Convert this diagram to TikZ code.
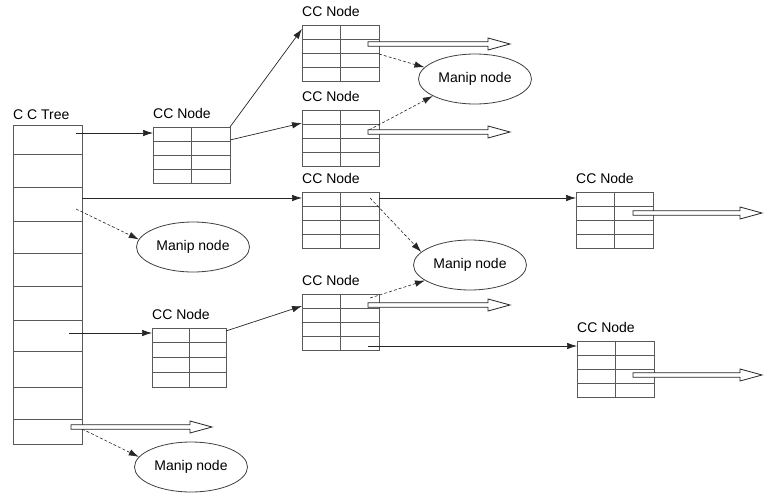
\documentclass[tikz,border=0pt]{standalone}
\usepackage{fontspec}
\setmainfont{Liberation Sans}
\usetikzlibrary{arrows.meta,calc,shapes.geometric}

\newcommand{\hollowarr}[2]{%
  \draw[hollowline] #1 ++(0,-2.2) -- ++({#2-22},0) -- ++(0,-3.8) -- ++(22,6) -- ++(-22,6) -- ++(0,-3.8) -- ++({-(#2)+22},0) -- cycle;}

\tikzset{
  lbl/.style={font=\fontsize{14}{16}\selectfont},
  boxline/.style={draw=black!65, line width=0.9pt},
  ccnode/.style={draw=black!65, line width=0.9pt, minimum width=77pt, minimum height=56pt,
    inner sep=0pt, outer sep=0pt, anchor=north west,
    path picture={
      \draw[boxline] (path picture bounding box.north) -- (path picture bounding box.south);
      \foreach \f in {0.25,0.5,0.75}
        \draw[boxline] ($(path picture bounding box.north west)!\f!(path picture bounding box.south west)$)
          -- ($(path picture bounding box.north east)!\f!(path picture bounding box.south east)$);
    },
    label={[anchor=base west, inner sep=0pt, yshift=9pt, lbl]north west:CC Node}},
  treebox/.style={draw=black!65, line width=0.9pt, minimum width=69pt, minimum height=319pt,
    inner sep=0pt, outer sep=0pt, anchor=north west,
    label={[anchor=base west, inner sep=0pt, yshift=6pt, lbl]north west:C C Tree}},
  manip/.style={ellipse, draw=black!75, line width=0.8pt, minimum width=113pt, minimum height=50pt,
    inner sep=0pt, lbl},
  solidarr/.style={line width=0.7pt, draw=black!85, -{Latex[length=10pt,width=6.5pt]}},
  dasharr/.style={line width=0.6pt, draw=black!85, dash pattern=on 3pt off 2pt,
    -{Latex[length=10pt,width=6.5pt]}},
  hollowline/.style={draw=black!85, line width=0.8pt, fill=white, line join=miter},
}

\begin{document}
\begin{tikzpicture}[x=1pt,y=-1pt]
\useasboundingbox (0,0) rectangle (764,493);

% C C Tree
\node[treebox] (tree) at (13,125) {};
\foreach \d in {29,62,96,128,161,195,226,262,294}
  \draw[boxline] ([shift={(0,\d)}]tree.north west) -- ([shift={(0,\d)}]tree.north east);

% CC nodes
\node[ccnode] (A) at (153,127) {};
\node[ccnode] (B) at (302,25) {};
\node[ccnode] (C) at (302,110) {};
\node[ccnode] (D) at (302,192) {};
\node[ccnode] (E) at (302,294) {};
\node[ccnode, minimum width=74pt, minimum height=59pt] (F) at (152,328) {};
\node[ccnode] (G) at (576,192) {};
\node[ccnode] (H) at (577,341) {};

% Manip nodes
\node[manip] (M1) at (475,79) {Manip node};
\node[manip] (M2) at (193,247) {Manip node};
\node[manip] (M3) at (470,265) {Manip node};
\node[manip] (M4) at (191,467) {Manip node};

% solid arrows
\draw[solidarr] ([shift={(63,8)}]tree.north west) -- ([shift={(0,6)}]A.north west);
\draw[solidarr] (A.north east) -- ([shift={(0,4)}]B.north west);
\draw[solidarr] ([shift={(0,13)}]A.north east) -- ([shift={(0,13)}]C.north west);
\draw[solidarr] ([shift={(0,73)}]tree.north east) -- ([shift={(0,6)}]D.north west);
\draw[solidarr] ([shift={(0,6)}]D.north east) -- ([shift={(0,6)}]G.north west);
\draw[solidarr] ([shift={(56,208)}]tree.north west) -- ([shift={(0,5)}]F.north west);
\draw[solidarr] ([shift={(0,3)}]F.north east) -- ([shift={(0,12)}]E.north west);
\draw[solidarr] ([shift={(66,52)}]E.north west) -- ([shift={(0,5)}]H.north west);

% dashed arrows
\draw[dasharr] ([shift={(0,29)}]B.north east) -- (M1.167);
\draw[dasharr] ([shift={(67,20)}]C.north west) -- (M1.202);
\draw[dasharr] ([shift={(68,6)}]D.north west) -- (M3.165);
\draw[dasharr] ([shift={(68,4)}]E.north west) -- (M3.199);
\draw[dasharr] ([shift={(63,84)}]tree.north west) -- (M2.172);
\draw[dasharr] ([shift={(0,304)}]tree.north east) -- (M4.169);

% hollow arrows
\hollowarr{([shift={(66,19)}]B.north west)}{142}
\hollowarr{([shift={(66,22)}]C.north west)}{142}
\hollowarr{([shift={(66,11)}]E.north west)}{142}
\hollowarr{([shift={(57,21)}]G.north west)}{129}
\hollowarr{([shift={(56,34)}]H.north west)}{129}
\hollowarr{([shift={(58,302)}]tree.north west)}{141}
\end{tikzpicture}
\end{document}
